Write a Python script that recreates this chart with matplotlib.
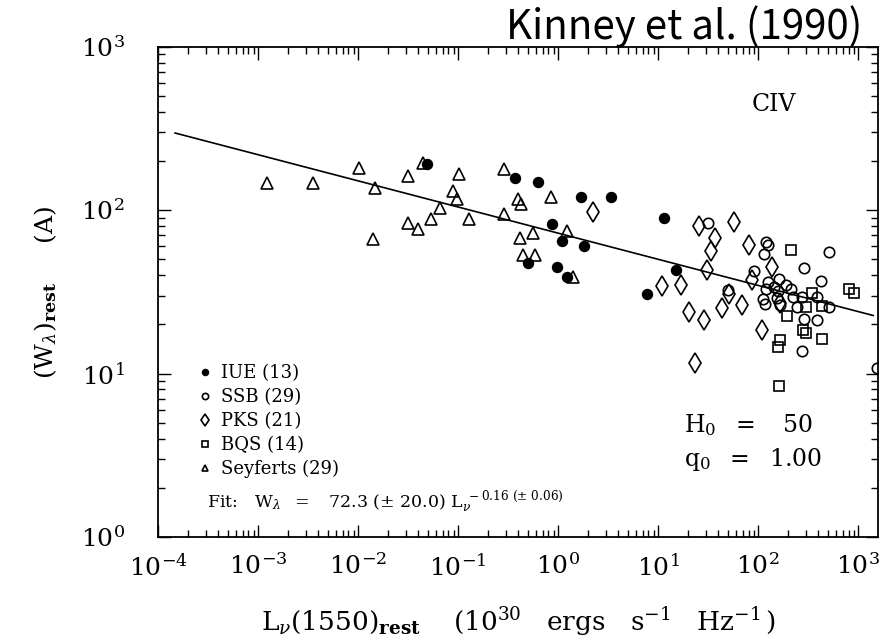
import numpy as np
import matplotlib
matplotlib.use("Agg")
import matplotlib.pyplot as plt
from matplotlib.ticker import LogLocator, NullFormatter

plt.rcParams['font.family'] = 'DejaVu Serif'
plt.rcParams['mathtext.fontset'] = 'dejavuserif'

# CIV equivalent width vs. 1550A luminosity, by sample
iue_L = [0.049, 0.37, 0.63, 1.70, 3.4, 0.87, 1.10, 1.82, 0.50, 0.98, 1.23, 11.5, 15.1, 7.8]
iue_W = [192, 158, 149, 121, 121, 82, 65, 60, 47.6, 45, 39, 90, 43, 30.7]

ssb_L = [31.6, 120, 126, 115, 513, 91, 288, 427, 50, 126, 162, 191, 145, 120, 158,
         214, 112, 117, 155, 166, 224, 275, 245, 389, 513, 288, 389, 275, 1550]
ssb_W = [83.6, 64, 61.3, 54, 55.6, 42.5, 44.3, 36.9, 32.5, 36.4, 37.9, 34.9, 33.9, 33.0, 32.1,
         33.0, 28.6, 26.7, 29.0, 26.3, 29.4, 29.4, 25.6, 29.4, 25.6, 21.6, 21.3, 13.8, 10.8]

pks_L = [2.24, 25.7, 57.5, 37.2, 33.9, 81.3, 30.9, 138, 87, 11.0, 17.0, 51.3, 69, 20.4,
         43.6, 28.8, 110, 23.4, 166]
pks_W = [97.7, 80.2, 84.8, 67.6, 56.4, 61.4, 43, 45, 37.4, 34.4, 34.9, 30.7, 26.3, 23.8,
         25.2, 21.3, 18.5, 11.6, 27.1]

bqs_L = [214, 347, 813, 912, 302, 437, 195, 282, 302, 437, 166, 158, 162]
bqs_W = [57.1, 31.2, 33.0, 31.2, 25.6, 25.9, 22.5, 18.5, 17.7, 16.3, 16.1, 14.6, 8.4]

sey_L = [0.00123, 0.00355, 0.0102, 0.0148, 0.0141, 0.0447, 0.0316, 0.102, 0.288, 0.089,
         0.098, 0.066, 0.054, 0.129, 0.0316, 0.040, 0.288, 0.40, 0.43, 0.85, 0.56, 0.42,
         1.23, 0.45, 0.59, 1.41]
sey_W = [147, 147, 182, 137, 66.7, 195, 162, 167, 179, 131,
         117, 103, 88.5, 88.5, 83.6, 76.8, 94.9, 117, 109, 121, 72.6, 67.6,
         74.7, 53.2, 53.2, 39.1]

# fit: W = A * L^slope
fit_A = 72.3
fit_slope = -0.16
fit_range = [10**-3.83, 10**3.15]

fig = plt.figure(figsize=(8.88, 6.4), dpi=100)
ax = fig.add_axes([0.178, 0.161, 0.811, 0.766])

L_fit = np.logspace(np.log10(fit_range[0]), np.log10(fit_range[1]), 50)
ax.plot(L_fit, fit_A * L_fit**fit_slope, color='black', lw=1.2)

kw = dict(linestyle='none', color='black', mew=1.2)
ax.plot(iue_L, iue_W, marker='o', ms=7, label='IUE (13)', **kw)
ax.plot(ssb_L, ssb_W, marker='o', ms=7.5, mfc='none', label='SSB (29)', **kw)
ax.plot(pks_L, pks_W, marker='d', ms=10, mfc='none', label='PKS (21)', **kw)
ax.plot(bqs_L, bqs_W, marker='s', ms=7, mfc='none', label='BQS (14)', **kw)
ax.plot(sey_L, sey_W, marker='^', ms=8, mfc='none', label='Seyferts (29)', **kw)

ax.set_xscale('log')
ax.set_yscale('log')
ax.set_xlim(1e-4, 10**3.2)
ax.set_ylim(1, 1000)

for axis in (ax.xaxis, ax.yaxis):
    axis.set_major_locator(LogLocator(base=10, numticks=20))
    axis.set_minor_locator(LogLocator(base=10, subs=np.arange(2, 10), numticks=20))
    axis.set_minor_formatter(NullFormatter())

ax.tick_params(which='both', direction='in', top=True, right=True, width=1)
ax.tick_params(which='major', length=9, labelsize=18)
ax.tick_params(which='minor', length=5)
ax.tick_params(axis='x', which='major', pad=12)
ax.tick_params(axis='y', which='major', pad=24)
for s in ax.spines.values():
    s.set_linewidth(1.3)

ax.set_xlabel(r'$\mathrm{L}_\nu(1550)_{\mathbf{rest}}\quad\ (10^{30}\ \ \ \mathrm{ergs\ \ \ s^{-1}\ \ \ Hz^{-1}}\,)$',
              fontsize=19, labelpad=18)
ax.set_ylabel(r'$(\mathrm{W}_\lambda)_{\mathbf{rest}}\quad\ \ (\mathrm{A})$', fontsize=18, labelpad=16)

leg = ax.legend(loc='upper left', bbox_to_anchor=(0.0556, 0.352), frameon=False,
                fontsize=13, markerscale=0.6, handlelength=0.8, handletextpad=0.45,
                labelspacing=0.33, borderpad=0, borderaxespad=0, numpoints=1)

ax.text(0.855, 0.882, 'CIV', transform=ax.transAxes, fontsize=17, ha='center', va='center')
ax.text(0.73, 0.229, r'$\mathrm{H}_0\ \ =\ \ \ 50$', transform=ax.transAxes, fontsize=17, va='center')
ax.text(0.73, 0.157, r'$\mathrm{q}_0\ \ =\ \ 1.00$', transform=ax.transAxes, fontsize=17, va='center')
ax.text(0.068, 0.072,
        r'Fit:   $\mathrm{W}_\lambda\ \ =\ \ \ 72.3\ (\pm\ 20.0)\ \mathrm{L}_\nu^{\ -0.16\ (\pm\ 0.06)}$',
        transform=ax.transAxes, fontsize=12.5, va='center')

fig.text(862 / 888, 1 - 27 / 640, 'Kinney et al. (1990)', fontsize=29, ha='right', va='center',
         family=['Noto Sans CJK JP', 'DejaVu Sans'])

fig.savefig('out.png', dpi=100)
